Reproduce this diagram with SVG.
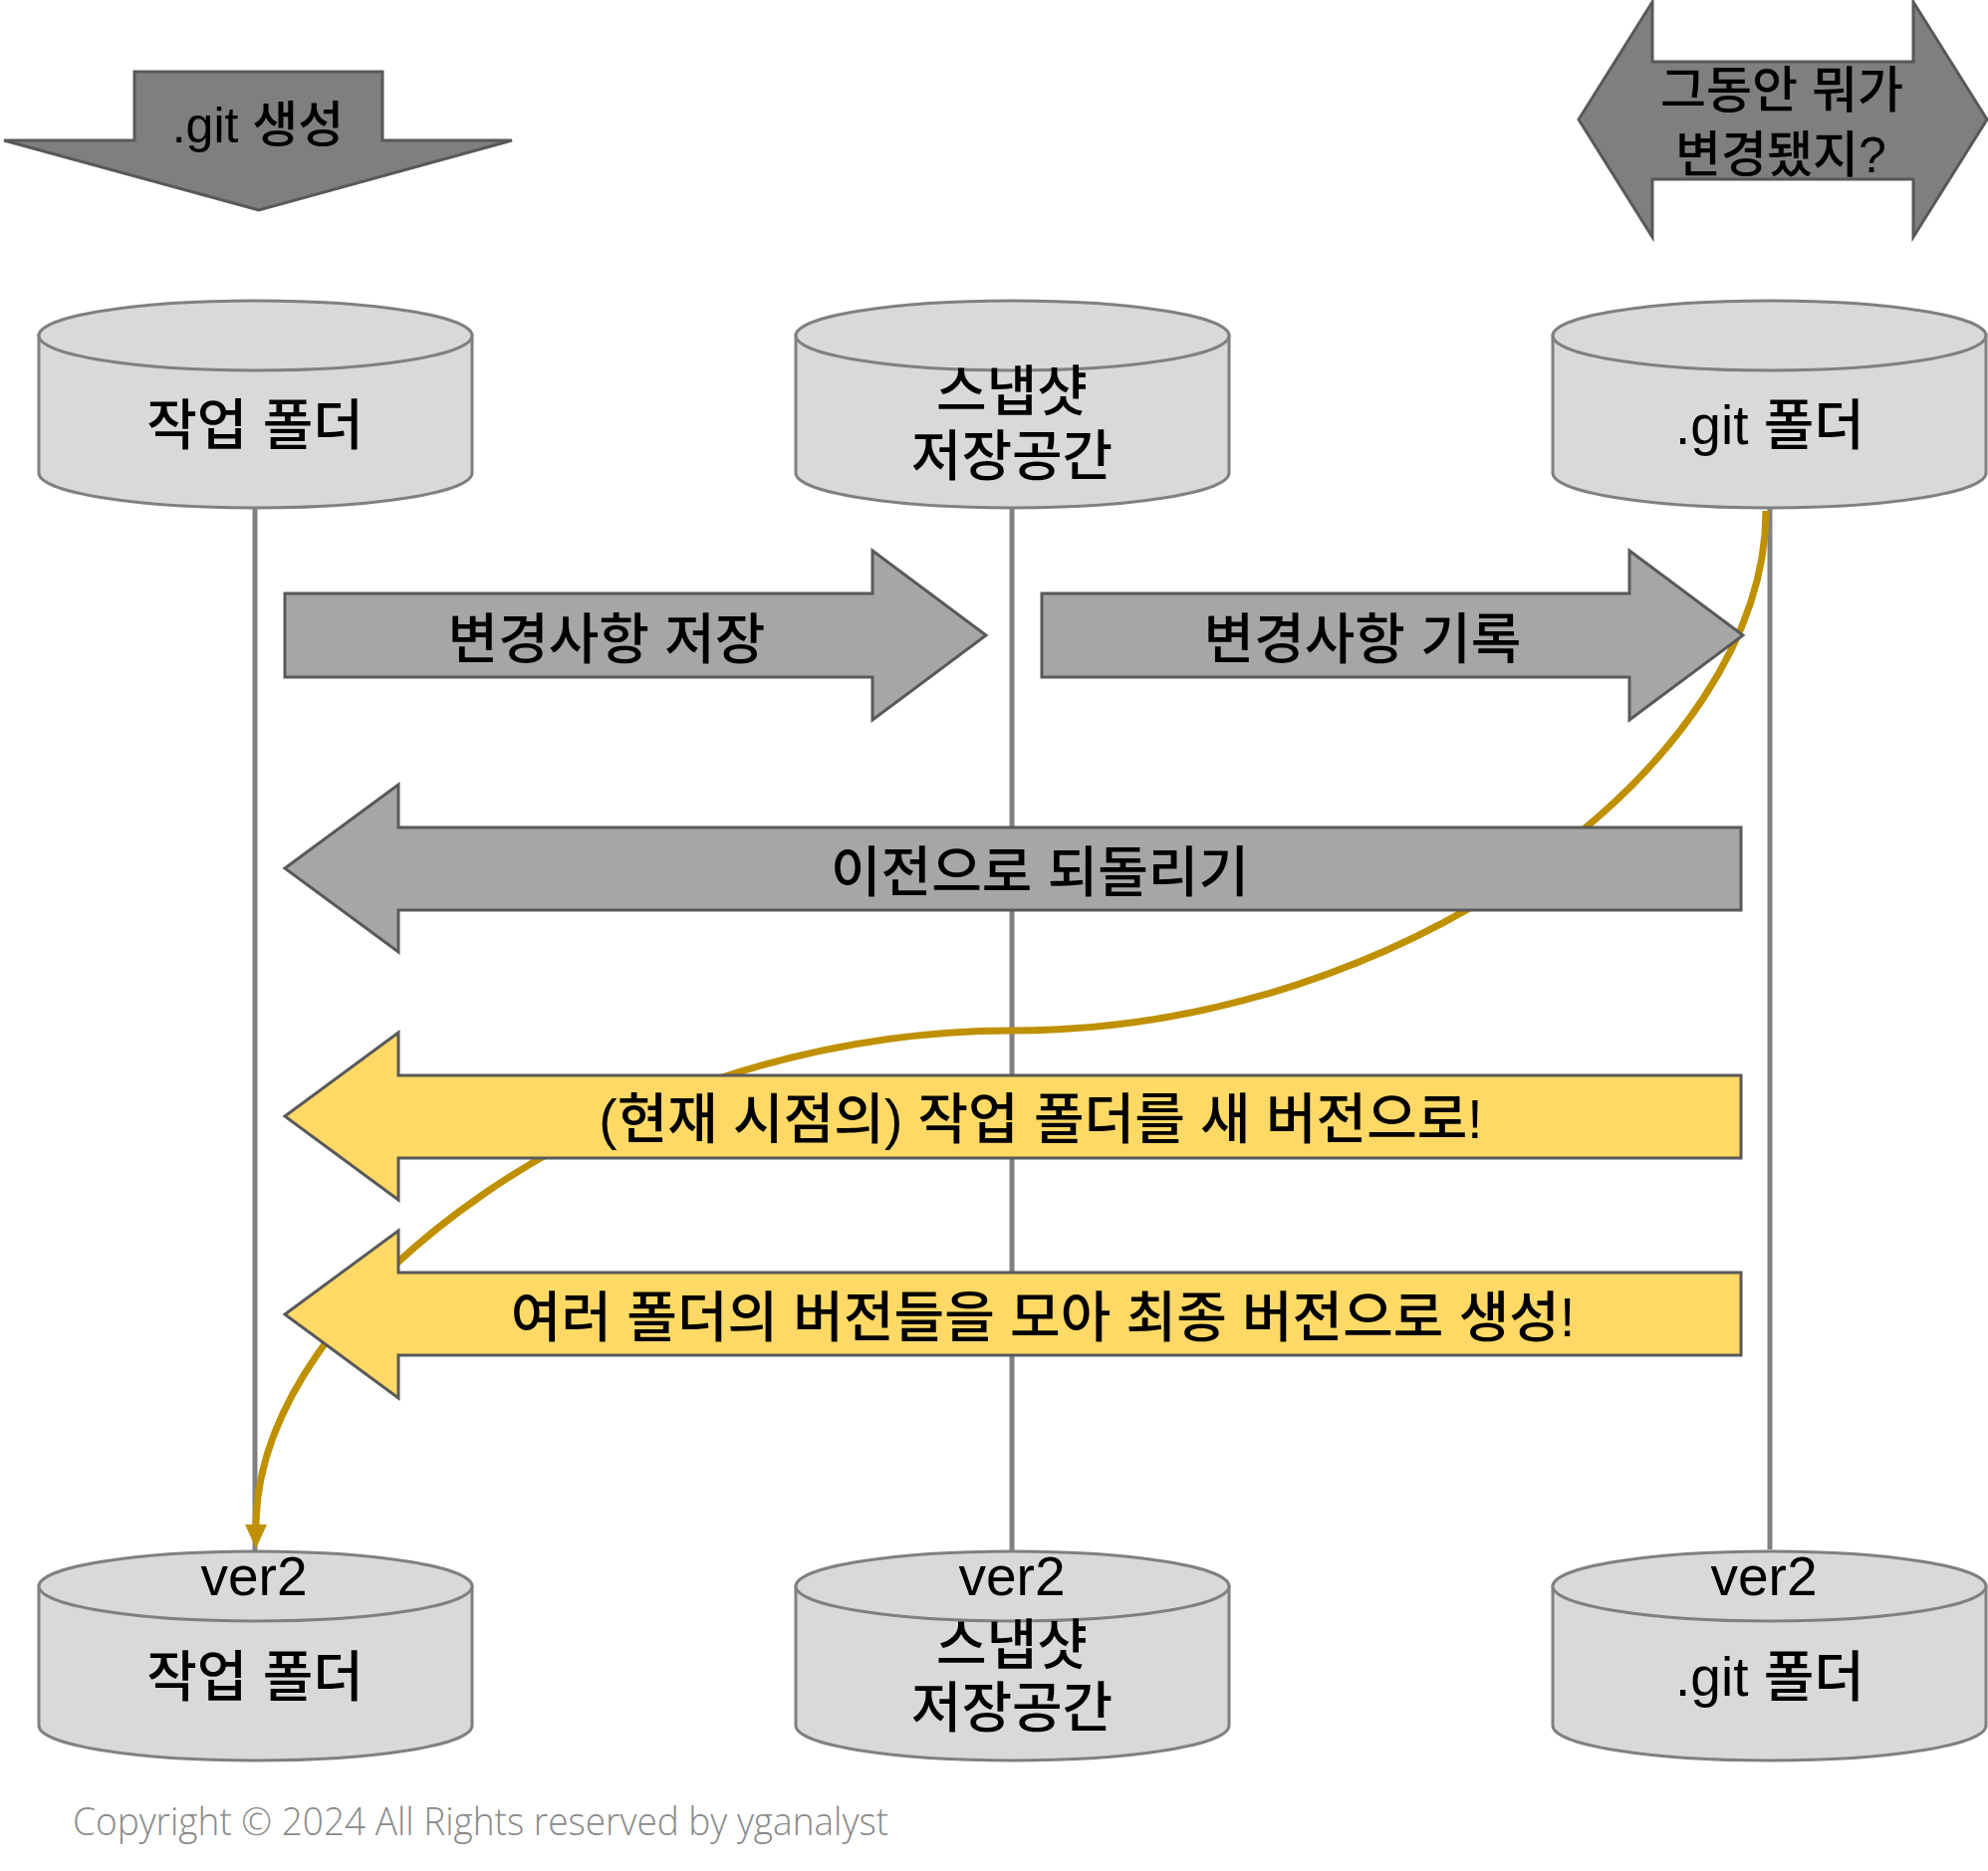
<svg xmlns="http://www.w3.org/2000/svg" width="1996" height="1879" viewBox="0 0 1996 1879">
<style>
.cyl{fill:#D9D9D9;stroke:#808080;stroke-width:3}
.dark{fill:#7F7F7F;stroke:#595959;stroke-width:3;stroke-linejoin:miter}
.gray{fill:#A6A6A6;stroke:#595959;stroke-width:3;stroke-linejoin:miter}
.yel{fill:#FFD966;stroke:#595959;stroke-width:3;stroke-linejoin:miter}
.life{stroke:#808080;stroke-width:5;fill:none}
.curve{stroke:#BF9000;stroke-width:7;fill:none}
text{font-family:"Liberation Sans","Noto Sans CJK KR",sans-serif;fill:#000;text-anchor:middle;font-weight:500}
.t55{font-size:55px}
.t50{font-size:50px}
.copy{font-family:"Open Sans","Noto Sans",sans-serif;font-weight:300;font-size:38px;fill:#8A8A8A;text-anchor:start}
</style>
<defs>
<marker id="gold-head" markerUnits="userSpaceOnUse" markerWidth="30" markerHeight="30" viewBox="0 0 30 30" refX="4" refY="15" orient="auto">
<path d="M2,4 L26,15 L2,26 Z" fill="#BF9000"/>
</marker>
</defs>
<rect width="1996" height="1879" fill="#FFFFFF"/>

<g id="connectors">
<line class="life" x1="256" y1="510" x2="256" y2="1558"/>
<line class="life" x1="1016" y1="510" x2="1016" y2="1558"/>
<line class="life" x1="1777" y1="510" x2="1777" y2="1556"/>
<path class="curve" d="M1773,513 C1773,763 1416,1035 1016,1035 C616,1035 257,1305 257,1533" marker-end="url(#gold-head)"/>
</g>

<g id="git-create">
<polygon class="dark" points="135,72 384,72 384,141 514,141 260,211 4,141 135,141"/>
<text class="t50" x="259" y="143">.git 생성</text>
</g>

<g id="what-changed">
<polygon class="dark" points="1585,120 1659,2 1659,62 1921,62 1921,2 1995,120 1921,238 1921,180 1659,180 1659,238"/>
<text class="t50" x="1789" y="108">그동안 뭐가</text>
<text class="t50" x="1788" y="173">변경됐지?</text>
</g>

<g id="work-folder">
<path class="cyl" d="M39,337 V475 A217.5,35 0 0 0 474,475 V337 Z"/>
<ellipse class="cyl" cx="256.5" cy="337" rx="217.5" ry="35"/>
<text class="t55" x="256" y="446">작업 폴더</text>
</g>

<g id="snapshot-storage">
<path class="cyl" d="M799,337 V475 A217.5,35 0 0 0 1234,475 V337 Z"/>
<ellipse class="cyl" cx="1016.5" cy="337" rx="217.5" ry="35"/>
<text class="t55" x="1016" y="412">스냅샷</text>
<text class="t55" x="1016" y="477">저장공간</text>
</g>

<g id="git-folder">
<path class="cyl" d="M1559,337 V475 A217.5,35 0 0 0 1994,475 V337 Z"/>
<ellipse class="cyl" cx="1776.5" cy="337" rx="217.5" ry="35"/>
<text class="t55" x="1777" y="446">.git 폴더</text>
</g>

<g id="work-folder-v2">
<path class="cyl" d="M39,1593 V1733 A217.5,35 0 0 0 474,1733 V1593 Z"/>
<ellipse class="cyl" cx="256.5" cy="1593" rx="217.5" ry="35"/>
<text class="t55" x="255" y="1602">ver2</text>
<text class="t55" x="256" y="1703">작업 폴더</text>
</g>

<g id="snapshot-storage-v2">
<path class="cyl" d="M799,1593 V1733 A217.5,35 0 0 0 1234,1733 V1593 Z"/>
<ellipse class="cyl" cx="1016.5" cy="1593" rx="217.5" ry="35"/>
<text class="t55" x="1016" y="1602">ver2</text>
<text class="t55" x="1016" y="1671">스냅샷</text>
<text class="t55" x="1016" y="1734">저장공간</text>
</g>

<g id="git-folder-v2">
<path class="cyl" d="M1559,1593 V1733 A217.5,35 0 0 0 1994,1733 V1593 Z"/>
<ellipse class="cyl" cx="1776.5" cy="1593" rx="217.5" ry="35"/>
<text class="t55" x="1771" y="1602">ver2</text>
<text class="t55" x="1777" y="1703">.git 폴더</text>
</g>

<g id="save-changes">
<polygon class="gray" points="286,596 876,596 876,553 990,638 876,723 876,680 286,680"/>
<text class="t55" x="609" y="661">변경사항 저장</text>
</g>

<g id="record-changes">
<polygon class="gray" points="1046,596 1636,596 1636,553 1750,638 1636,723 1636,680 1046,680"/>
<text class="t55" x="1368" y="661">변경사항 기록</text>
</g>

<g id="revert">
<polygon class="gray" points="286,872 400,788 400,831 1748,831 1748,914 400,914 400,956"/>
<text class="t55" x="1044" y="895">이전으로 되돌리기</text>
</g>

<g id="new-version">
<polygon class="yel" points="286,1121 400,1037 400,1080 1748,1080 1748,1163 400,1163 400,1205"/>
<text class="t55" x="1045" y="1143">(현재 시점의) 작업 폴더를 새 버전으로!</text>
</g>

<g id="merge-version">
<polygon class="yel" points="286,1320 400,1236 400,1278 1748,1278 1748,1361 400,1361 400,1404"/>
<text class="t55" x="1047" y="1342">여러 폴더의 버전들을 모아 최종 버전으로 생성!</text>
</g>

<text class="copy" x="73" y="1843" textLength="819" lengthAdjust="spacingAndGlyphs">Copyright © 2024 All Rights reserved by yganalyst</text>
</svg>
